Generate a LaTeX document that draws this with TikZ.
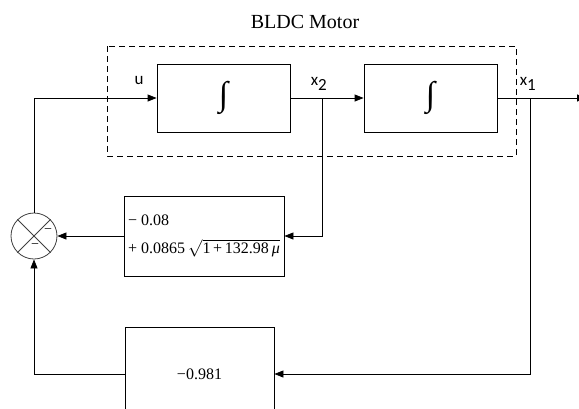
\documentclass[tikz,border=0pt]{standalone}
\usepackage{fontspec}
\setmainfont{Liberation Serif}
\newfontfamily\lblfont{Carlito}
\usetikzlibrary{arrows.meta}

\begin{document}
\begin{tikzpicture}[x=1pt, y=-1pt,
    block/.style={draw, line width=0.8pt, minimum width=133pt, minimum height=68pt,
                  inner sep=0pt, font=\fontsize{34}{34}\selectfont},
    gainbox/.style={draw, line width=0.8pt, inner sep=0pt, font=\fontsize{16}{28}\selectfont},
    sumnode/.style={draw=black!75, circle, line width=0.8pt, minimum size=46pt, inner sep=0pt},
    sig/.style={font=\lblfont\fontsize{17}{17}\selectfont},
    arrow/.style={-{Triangle[length=9pt,width=7pt]}, line width=0.8pt},
    wire/.style={line width=0.8pt}
  ]
    \useasboundingbox (0,0) rectangle (579,408);

    % motor part
    \node[font=\fontsize{20}{20}\selectfont] (title) at (305,22) {BLDC Motor};
    \draw[wire, dash pattern=on 6pt off 4pt] (107,46) rectangle (516,156);
    \node[block] (int1) at (223.5,98) {∫\hspace{6pt}};
    \node[block] (int2) at (430.5,98) {∫};

    % feedback gains and summing point
    \node[gainbox, minimum width=160pt, minimum height=80pt, align=left] (gain2) at (204,236)
      {− 0.08\\+ 0.0865$\,\sqrt{\mbox{1\,+\,132.98}\,\mbox{\itshape μ}}$};
    \node[gainbox, minimum width=149pt, minimum height=94pt] (gain1) at (199.5,374) {−0.981\hspace{10pt}};
    \node[sumnode] (sum) at (34,236) {};
    \draw[wire, draw=black!75] (sum.north east) -- (sum.south west)
                               (sum.north west) -- (sum.south east);
    \node[font=\fontsize{14}{14}\selectfont] (m1) at (48,231) {−};
    \node[font=\fontsize{14}{14}\selectfont] (m2) at (35,246) {−};

    % signals
    \node[sig] (u) at (139,80) {u};
    \node[sig] (x2) at (319,84) {x$_{\mbox{\lblfont 2}}$};
    \node[sig] (x1) at (528,84) {x$_{\mbox{\lblfont 1}}$};
    \coordinate (b2) at (322,98);
    \coordinate (b1) at (530,98);
    \coordinate (out) at (586,98);

    \draw[arrow] (sum.north) |- (int1.west);
    \draw[arrow] (int1) -- (int2);
    \draw[arrow] (int2.east) -- (out);
    \draw[arrow] (b2) |- (gain2.east);
    \draw[arrow] (gain2) -- (sum);
    \draw[arrow] (b1) |- (gain1.east);
    \draw[arrow] (gain1.west) -| (sum.south);
  \end{tikzpicture}
\end{document}
